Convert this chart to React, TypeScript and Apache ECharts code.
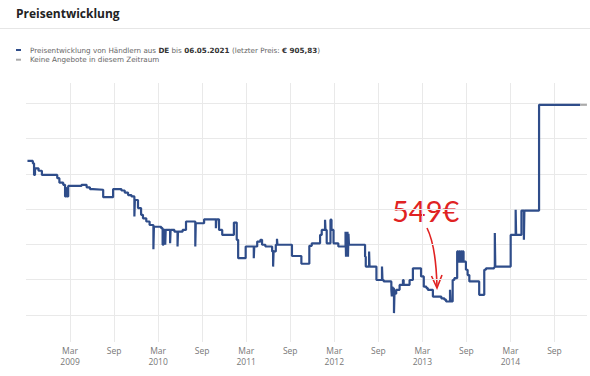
import React, { useEffect, useRef } from "react";
import * as echarts from "echarts";

// Price history (date of change, new price in €)
const priceHistory: [string, number][] = [
  ["2008-09-07", 937], ["2008-09-29", 930], ["2008-10-04", 897], ["2008-10-08", 916],
  ["2008-10-23", 909], ["2008-11-06", 897], ["2009-01-09", 888], ["2009-01-18", 875],
  ["2009-02-03", 869], ["2009-02-10", 836], ["2009-02-13", 860], ["2009-02-16", 836],
  ["2009-02-22", 866], ["2009-04-18", 869], ["2009-05-09", 862], ["2009-05-23", 857],
  ["2009-06-04", 855], ["2009-07-17", 834], ["2009-08-28", 857], ["2009-10-01", 853],
  ["2009-10-15", 847], ["2009-10-29", 840], ["2009-11-12", 836], ["2009-11-24", 779],
  ["2009-11-26", 826], ["2009-12-09", 803], ["2009-12-22", 784], ["2009-12-30", 774],
  ["2010-01-13", 765], ["2010-01-27", 755], ["2010-02-11", 686], ["2010-02-13", 750],
  ["2010-03-14", 746], ["2010-03-20", 699], ["2010-03-24", 741], ["2010-03-31", 699],
  ["2010-04-02", 741], ["2010-04-20", 703], ["2010-04-22", 741], ["2010-05-08", 736],
  ["2010-05-21", 694], ["2010-05-23", 736], ["2010-06-11", 741], ["2010-06-25", 765],
  ["2010-08-03", 694], ["2010-08-05", 760], ["2010-09-09", 771], ["2010-10-28", 746],
  ["2010-10-30", 771], ["2010-11-10", 741], ["2010-11-23", 727], ["2011-01-11", 762],
  ["2011-01-23", 713], ["2011-01-29", 661], ["2011-02-27", 694], ["2011-04-02", 661],
  ["2011-04-04", 694], ["2011-04-16", 708], ["2011-04-29", 713], ["2011-05-06", 699],
  ["2011-05-20", 694], ["2011-06-17", 680], ["2011-06-21", 637], ["2011-06-23", 680],
  ["2011-07-02", 699], ["2011-07-07", 716], ["2011-07-09", 699], ["2011-09-08", 667],
  ["2011-10-17", 645], ["2011-11-19", 696], ["2011-11-29", 703], ["2012-01-03", 727],
  ["2012-01-10", 741], ["2012-01-24", 770], ["2012-01-26", 741], ["2012-01-31", 703],
  ["2012-02-15", 770], ["2012-02-19", 741], ["2012-02-27", 703], ["2012-03-18", 694],
  ["2012-04-17", 736], ["2012-04-19", 665], ["2012-04-21", 736], ["2012-04-23", 665],
  ["2012-04-25", 736], ["2012-04-27", 665], ["2012-04-29", 730], ["2012-05-01", 699],
  ["2012-07-07", 665], ["2012-07-10", 637], ["2012-07-24", 680], ["2012-07-26", 637],
  ["2012-08-24", 599], ["2012-09-16", 637], ["2012-09-18", 599], ["2012-09-23", 595],
  ["2012-10-25", 571], ["2012-10-27", 552], ["2012-10-29", 580], ["2012-10-31", 552],
  ["2012-11-02", 575], ["2012-11-05", 505], ["2012-11-07", 560], ["2012-11-14", 571],
  ["2012-11-28", 585], ["2012-12-12", 599], ["2012-12-15", 585], ["2013-01-09", 599],
  ["2013-01-23", 632], ["2013-02-24", 609], ["2013-03-07", 580], ["2013-03-18", 576],
  ["2013-03-24", 571], ["2013-04-14", 552], ["2013-05-19", 547], ["2013-06-01", 543],
  ["2013-06-08", 538], ["2013-06-24", 571], ["2013-06-26", 538], ["2013-07-05", 599],
  ["2013-07-12", 604], ["2013-07-24", 680], ["2013-07-27", 651], ["2013-07-31", 680],
  ["2013-08-04", 651], ["2013-08-08", 680], ["2013-08-12", 651], ["2013-08-16", 680],
  ["2013-08-20", 651], ["2013-08-30", 628], ["2013-09-06", 613], ["2013-09-13", 595],
  ["2013-10-24", 557], ["2013-11-14", 628], ["2013-11-21", 632], ["2013-12-25", 635],
  ["2013-12-28", 732], ["2013-12-30", 637], ["2014-03-02", 727], ["2014-03-23", 798],
  ["2014-03-25", 727], ["2014-04-16", 796], ["2014-04-26", 713], ["2014-04-28", 796],
  ["2014-06-28", 1096], ["2014-12-17", 1096],
];

// Period without offers
const noOfferPeriod: [string, number][] = [
  ["2014-12-17", 1096], ["2015-01-14", 1096],
];

const yGridValues = [500, 600, 700, 800, 900, 1000, 1100];
const xTickMonths = ["Mar", "Sep"];
const priceSeriesName =
  "Preisentwicklung von Händlern aus DE bis 06.05.2021 (letzter Preis: € 905,83)";
const noOfferSeriesName = "Keine Angebote in diesem Zeitraum";
const annotationText = "549€";

// months counted from March 2008
const toMonth = (d: string) => {
  const [y, m, day] = d.split("-").map(Number);
  const dim = new Date(y, m, 0).getDate();
  return (y - 2008) * 12 + (m - 3) + (day - 1) / dim;
};

export default function App() {
  const ref = useRef<HTMLDivElement>(null);
  useEffect(() => {
    if (!ref.current) return;
    const chart = echarts.init(ref.current, undefined, { renderer: "svg" });
    const grid = "#e9e9e9";
    const font = "DejaVu Sans";
    const fs = 7.2;
    chart.setOption({
      animation: false,
      backgroundColor: "#ffffff",
      title: {
        text: "Preisentwicklung",
        left: 16,
        top: 7,
        padding: 0,
        textStyle: { fontFamily: "Open Sans", fontWeight: "bold", fontSize: 12, color: "#222" },
      },
      legend: {
        left: 16,
        top: 46.5,
        padding: 0,
        orient: "vertical",
        itemGap: 2.7,
        icon: "rect",
        itemWidth: 5,
        itemHeight: 2,
        selectedMode: false,
        data: [priceSeriesName, noOfferSeriesName],
        formatter: (name: string) =>
          name === priceSeriesName
            ? "{n|Preisentwicklung von Händlern aus }{b|DE}{n| bis }{b|06.05.2021}{n| (letzter Preis: }{b|€ 905,83}{n|)}"
            : "{n|" + name + "}",
        textStyle: {
          padding: [0, 0, 0, 4],
          fontFamily: font,
          fontSize: fs,
          color: "#666",
          rich: {
            n: { fontFamily: font, fontSize: fs, color: "#666", lineHeight: 9 },
            b: { fontFamily: font, fontSize: fs, color: "#333", fontWeight: "bold", lineHeight: 9 },
          },
        },
      },
      grid: { left: 26, right: 0, top: 83, bottom: 34, containLabel: false },
      xAxis: {
        type: "value",
        min: 6,
        max: 82.43,
        interval: 6,
        axisLine: { show: false },
        axisTick: { show: false },
        splitLine: {
          show: true,
          lineStyle: {
            color: ["rgba(0,0,0,0)", ...Array(12).fill(grid), "rgba(0,0,0,0)"],
            width: 1,
          },
        },
        axisLabel: {
          margin: 3,
          fontFamily: "Open Sans",
          fontSize: 8.5,
          lineHeight: 11,
          color: "#777",
          showMinLabel: false,
          formatter: (v: number) => {
            const r = Math.round(v);
            if (Math.abs(v - r) > 0.01) return "";
            const mo = ((r % 12) + 12) % 12;
            if (mo === 0) return xTickMonths[0] + "\n" + (2008 + r / 12);
            if (mo === 6) return xTickMonths[1];
            return "";
          },
        },
      },
      yAxis: {
        type: "value",
        min: 423,
        max: 1158,
        axisLine: { show: false },
        axisTick: { show: false },
        axisLabel: { show: false },
        splitLine: { show: false },
      },
      series: [
        {
          name: priceSeriesName,
          type: "line",
          step: "end",
          symbol: "none",
          showSymbol: false,
          color: "#2f4d8a",
          lineStyle: { color: "#2f4d8a", width: 2.2 },
          data: priceHistory.map(([d, v]) => [toMonth(d), v]),
          z: 3,
          markLine: {
            silent: true,
            z: 1,
            symbol: ["none", "none"],
            label: { show: false },
            lineStyle: { color: grid, width: 1, type: "solid" },
            data: yGridValues.map((v) => ({ yAxis: v })),
          },
        },
        {
          name: noOfferSeriesName,
          type: "line",
          symbol: "none",
          showSymbol: false,
          color: "#aaaaaa",
          lineStyle: { color: "#aaaaaa", width: 2 },
          data: noOfferPeriod.map(([d, v]) => [toMonth(d), v]),
          z: 3,
        },
      ],
      graphic: [
        {
          type: "line",
          shape: { x1: 0, y1: 28.5, x2: 590, y2: 28.5 },
          style: { stroke: "#e6e6e6", lineWidth: 1 },
        },
        {
          type: "text",
          x: 392,
          y: 196,
          style: {
            text: annotationText,
            fontFamily: "Lato",
            fontWeight: "normal",
            fontSize: 29,
            fill: "#e02222",
          },
        },
        {
          type: "bezierCurve",
          shape: { x1: 427, y1: 228, x2: 437, y2: 287, cpx1: 436, cpy1: 246 },
          style: { stroke: "#e02222", lineWidth: 1.6, fill: "none" },
        },
        {
          type: "polyline",
          shape: { points: [[431.5, 276], [437, 288], [442, 275]] },
          style: { stroke: "#e02222", lineWidth: 1.6, fill: "none" },
        },
      ],
    });
    return () => chart.dispose();
  }, []);
  return (
    <div
      ref={ref}
      style={{ position: "absolute", left: 0, top: 0, width: 590, height: 376 }}
    />
  );
}
